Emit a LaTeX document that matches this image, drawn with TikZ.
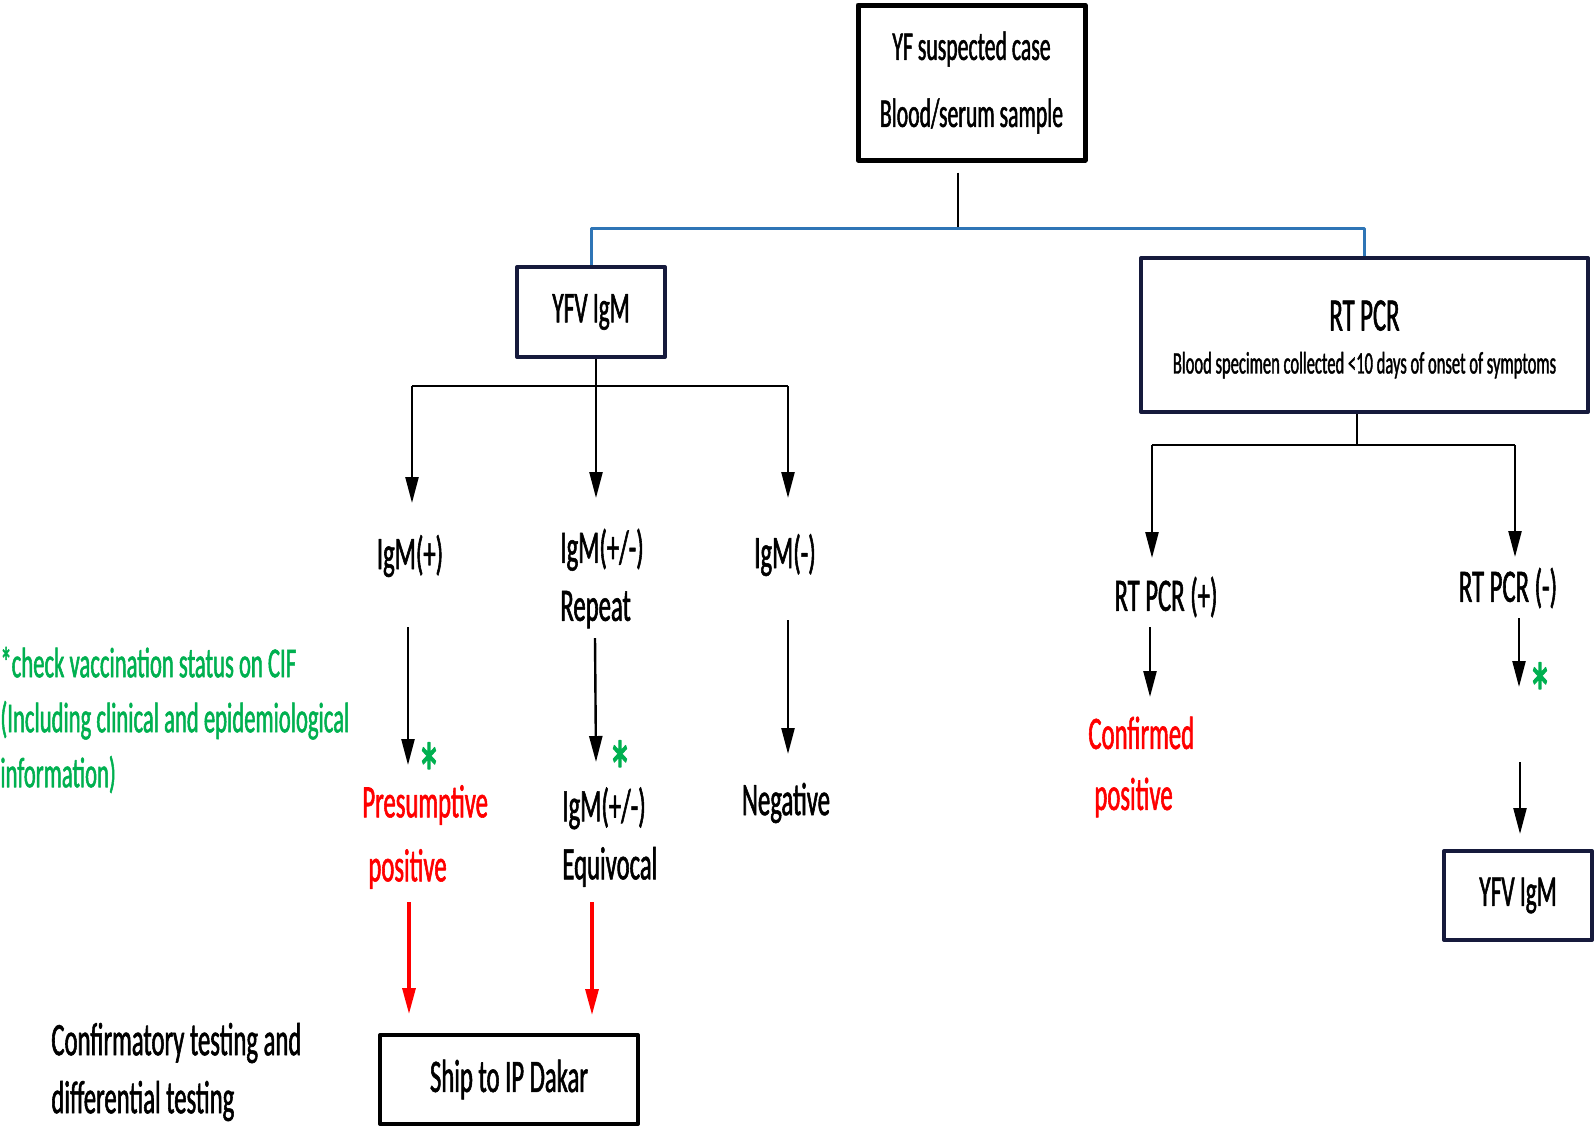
\documentclass[tikz,border=0pt]{standalone}
\usepackage{fontspec}
\setmainfont{Carlito}[FakeStretch=0.53, FakeBold=1.2]
\usetikzlibrary{arrows.meta}
\definecolor{boxnavy}{RGB}{22,26,60}
\definecolor{linkblue}{RGB}{46,117,182}
\definecolor{notegreen}{RGB}{0,176,80}
\definecolor{alertred}{RGB}{255,0,0}
\newcommand{\mainsize}{\fontsize{23.3}{29}\selectfont}
\newcommand{\topsize}{\fontsize{20.5}{29}\selectfont}
\newcommand{\subsize}{\fontsize{15.6}{18}\selectfont}
\newcommand{\notesize}{\fontsize{21.4}{27.5}\selectfont}
\newcommand{\greenmark}{\raisebox{-0.42em}[0.34em][0pt]{*}}
\tikzset{
  flowbox/.style={draw=boxnavy, line width=2pt, fill=white, inner sep=0pt, font=\mainsize, align=center},
  flowtext/.style={font=\mainsize, inner sep=0pt, align=center},
  lefttext/.style={flowtext, align=left, anchor=west},
  link/.style={line width=1.2pt},
  arr/.style={line width=1.2pt, -{Triangle[length=13pt,width=6.5pt]}},
  redarr/.style={arr, draw=alertred, line width=1.6pt},
  greenstar/.style={text=notegreen, inner sep=0pt, font=\fontsize{44}{44}\selectfont}
}
\begin{document}
\begin{tikzpicture}[x=0.5pt, y=-0.5pt, line join=round]
\useasboundingbox (0,0) rectangle (1594,1126);
% boxes
\node[flowbox, draw=black, line width=2.5pt, font=\topsize, minimum width=113.5pt, minimum height=77.5pt] (suspect) at (971.5,82.5) {YF suspected case\\[4.5pt]Blood/serum sample};
\node[flowbox, font=\fontsize{22}{29}\selectfont, minimum width=74pt, minimum height=45pt] (yfv) at (591,312) {YFV IgM};
\node[flowbox, minimum width=223.5pt, minimum height=77pt] (rtpcr) at (1364.5,335) {\rule{0pt}{19.5pt}RT PCR\\[-7.5pt]{\subsize Blood specimen collected <10 days of onset of symptoms}};
\node[flowbox, draw=black, minimum width=129pt, minimum height=44.5pt] (ship) at (509,1079.5) {Ship to IP Dakar};
\node[flowbox, font=\fontsize{22}{29}\selectfont, minimum width=74pt, minimum height=44.5pt] (yfvtwo) at (1518,895.5) {YFV IgM};
% texts
\node[flowtext] (igmpos) at (410,556) {IgM(+)};
\node[lefttext] (igmrep) at (560,578.5) {IgM(+/-)\\Repeat};
\node[flowtext] (igmneg) at (785,555) {IgM(-)};
\node[lefttext, text=alertred] (presum) at (362,837) {Presumptive\\[3pt]\hspace*{3pt}positive};
\node[lefttext] (equiv) at (562,837) {IgM(+/-)\\Equivocal};
\node[flowtext] (negative) at (786,803) {Negative};
\node[flowtext] (pcrpos) at (1166,597) {RT PCR (+)};
\node[flowtext] (pcrneg) at (1508,588) {RT PCR (-)};
\node[lefttext, text=alertred] (confirmed) at (1088,767) {Confirmed\\[1.5pt]\hspace*{3pt}positive};
\node[lefttext] (confirm) at (51,1072) {Confirmatory testing and\\differential testing};
\node[lefttext, font=\notesize, text=notegreen] (note) at (0,720) {*check vaccination status on CIF\\(Including clinical and epidemiological\\information)};
\node[greenstar] (stara) at (429,753) {\greenmark};
\node[greenstar] (starb) at (620,751) {\greenmark};
\node[greenstar] (starc) at (1540,673) {\greenmark};
% branch points and arrow ends
\path
  (958,228) coordinate (hub)
  (596,386) coordinate (igmfork)
  (412,386) coordinate (igmleft)
  (788,386) coordinate (igmright)
  (1357,445) coordinate (pcrfork)
  (1152,445) coordinate (pcrleft)
  (1515,445) coordinate (pcrright)
  ;
% top tree
\draw[link] (suspect.south -| hub) ++(0,10) -- (hub);
\draw[link, draw=linkblue, line width=1.5pt] (yfv.north) |- (hub) -| (rtpcr.north);
% IgM tree
\draw[link] (yfv.south -| igmfork) -- (igmfork);
\draw[link] (igmleft) -- (igmright);
\draw[arr] (igmleft) -- (412,503);
\draw[arr] (igmfork) -- (596,498);
\draw[arr] (igmright) -- (788,498);
\draw[arr] (408,627) -- (408,765);
\draw[arr] (595,638) -- (596,762);
\draw[arr] (788,620) -- (788,754);
\draw[redarr] (409,902) -- (409,1014);
\draw[redarr] (592,902) -- (592,1015);
% PCR tree
\draw[link] (rtpcr.south -| pcrfork) -- (pcrfork);
\draw[link] (pcrleft) -- (pcrright);
\draw[arr] (pcrleft) -- (1152,558);
\draw[arr] (pcrright) -- (1515,557);
\draw[arr] (1150,627) -- (1150,697);
\draw[arr] (1519,618) -- (1519,687);
\draw[arr] (1520,762) -- (1520,834);
\end{tikzpicture}
\end{document}
